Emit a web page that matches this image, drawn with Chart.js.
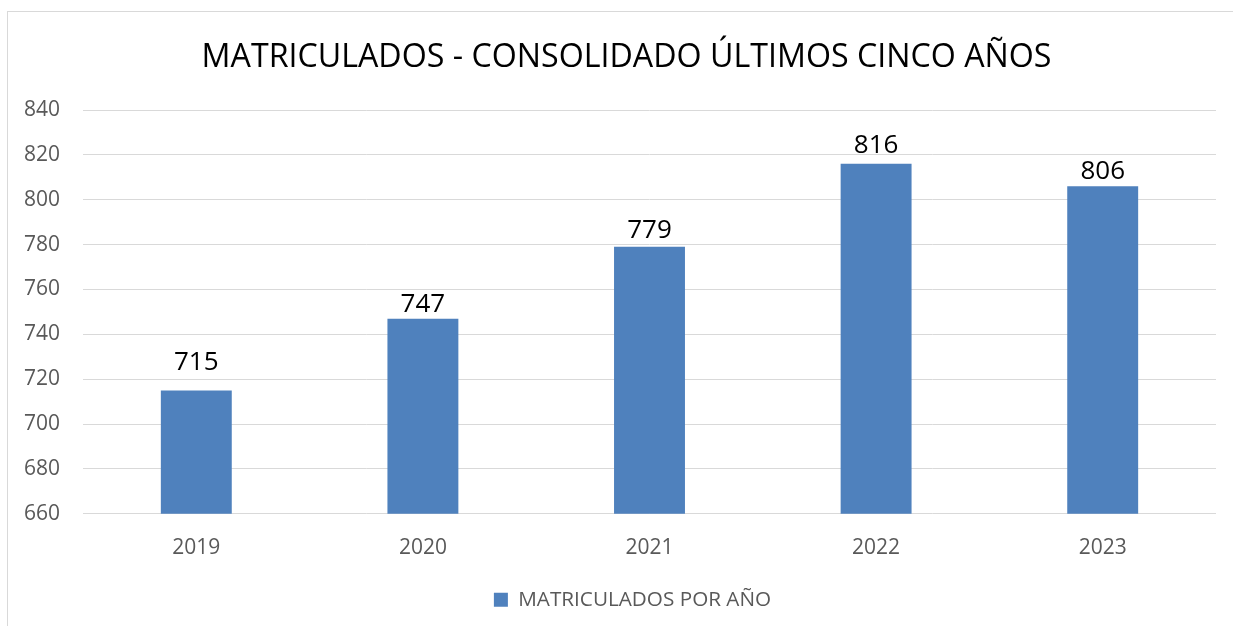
<!DOCTYPE html>
<html>
<head>
<meta charset="utf-8">
<script src="https://cdn.jsdelivr.net/npm/chart.js@4/dist/chart.umd.min.js"></script>
<style>
  html, body { margin: 0; padding: 0; background: #fff; overflow: hidden; width: 1233px; height: 626px; }
  #frame { position: absolute; left: 7px; top: 11px; width: 1400px; height: 800px; border: 1px solid #d9d9d9; box-sizing: border-box; }
  #c { position: absolute; left: 0; top: 0; }
</style>
</head>
<body>
<div id="frame"></div>
<canvas id="c" width="1233" height="626"></canvas>
<script>
const categories = ['2019', '2020', '2021', '2022', '2023'];
const matriculados = [715, 747, 779, 816, 806];
const seriesName = 'MATRICULADOS POR AÑO';
const chartTitle = 'MATRICULADOS - CONSOLIDADO ÚLTIMOS CINCO AÑOS';
const yMin = 660, yMax = 840, yStep = 20;

const FONT = "'Open Sans', sans-serif";

const valueLabels = {
  id: 'valueLabels',
  afterDatasetsDraw(chart, args, opts) {
    const ctx = chart.ctx;
    ctx.save();
    ctx.font = opts.size + 'px ' + FONT;
    ctx.fillStyle = opts.color;
    ctx.textAlign = 'center';
    ctx.textBaseline = 'alphabetic';
    chart.data.datasets.forEach((ds, di) => {
      const meta = chart.getDatasetMeta(di);
      meta.data.forEach((bar, i) => {
        const gap = opts.gaps[i] != null ? opts.gaps[i] : 8;
        ctx.fillText(String(ds.data[i]), bar.x, bar.y - gap);
      });
    });
    ctx.restore();
  }
};

// Centre legend and title horizontally the way the original does
const boxShift = {
  id: 'boxShift',
  afterLayout(chart, args, opts) {
    const ca = chart.chartArea;
    const mid = (ca.left + ca.right) / 2;
    const move = (box, extra) => {
      if (!box) return;
      const d = mid + extra - (box.left + box.right) / 2;
      box.left += d;
      box.right += d;
    };
    move(chart.legend, opts.legendExtra);
    move(chart.titleBlock, opts.titleExtra);
  }
};

new Chart(document.getElementById('c'), {
  type: 'bar',
  data: {
    labels: categories,
    datasets: [{
      label: seriesName,
      data: matriculados,
      backgroundColor: '#4F81BD',
      borderWidth: 0,
      categoryPercentage: 0.313,
      barPercentage: 1.0
    }]
  },
  options: {
    responsive: false,
    animation: false,
    devicePixelRatio: 1,
    layout: { padding: { left: 0, right: 17, top: 0, bottom: 6 } },
    plugins: {
      title: {
        display: true,
        text: chartTitle,
        color: '#000000',
        font: { family: FONT, size: 32.2, weight: 'normal' },
        padding: { top: 39, bottom: 32.4 }
      },
      legend: {
        display: true,
        position: 'bottom',
        labels: {
          color: '#595959',
          font: { family: FONT, size: 20.7 },
          boxWidth: 14,
          boxHeight: 14,
          padding: 10
        }
      },
      tooltip: { enabled: false },
      valueLabels: { size: 26, color: '#000000', gaps: [20, 7, 9, 11, 7] },
      boxShift: { legendExtra: -17, titleExtra: -23 }
    },
    scales: {
      x: {
        grid: { display: false, drawTicks: false },
        border: { display: false },
        ticks: { color: '#595959', font: { family: FONT, size: 21 }, padding: 21.5 },
        afterFit(scale) { scale.height = 65.5; }
      },
      y: {
        min: yMin,
        max: yMax,
        ticks: { stepSize: yStep, color: '#595959', font: { family: FONT, size: 21 }, padding: 23 },
        grid: { color: '#d9d9d9', lineWidth: 1, drawTicks: false },
        border: { display: false },
        afterFit(scale) { scale.width = 83; }
      }
    }
  },
  plugins: [valueLabels, boxShift]
});
</script>
</body>
</html>
